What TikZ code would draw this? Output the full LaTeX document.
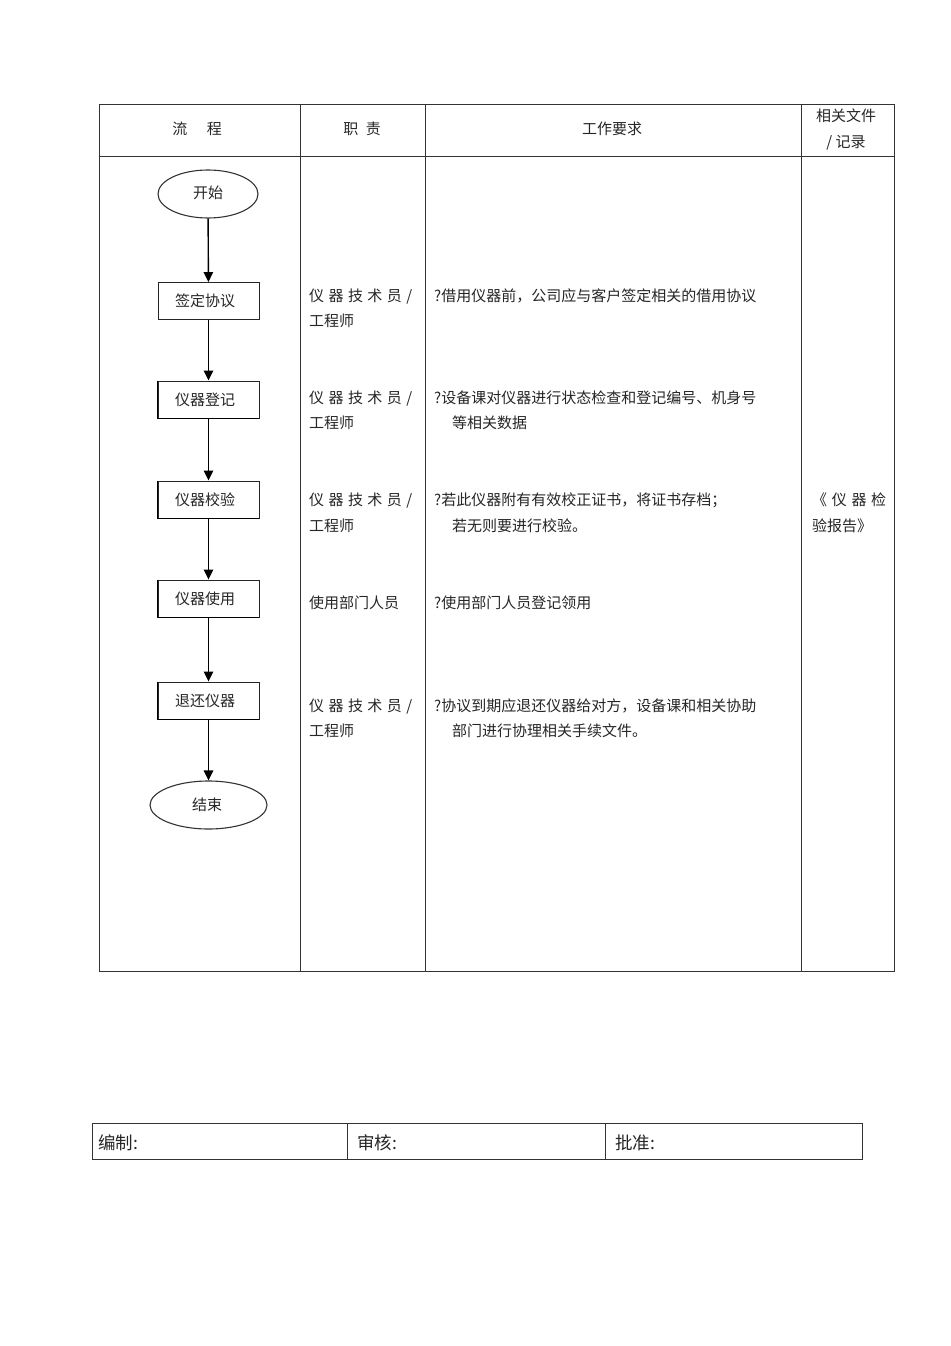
\documentclass[tikz,border=0pt]{standalone}
\usepackage{fontspec}
\setmainfont{Noto Sans CJK SC}
\usetikzlibrary{shapes.geometric,arrows.meta}
\tikzset{
  grid/.style={draw=black!80, line width=0.9pt},
  txt/.style={anchor=base west, inner sep=0pt, font=\fontsize{15}{16}\selectfont, text=black!85},
  ctxt/.style={anchor=base, inner sep=0pt, font=\fontsize{15}{16}\selectfont, text=black!85},
  term/.style={ellipse, draw=black!80, line width=1.1pt, inner sep=0pt, font=\fontsize{15}{16}\selectfont, text=black!85},
  procbox/.style={rectangle, draw=black!85, line width=0.9pt, minimum width=101pt, minimum height=37pt, inner sep=0pt, font=\fontsize{15}{16}\selectfont, text=black!85},
  flow/.style={draw=black, line width=1.4pt, -{Triangle[length=10pt,width=9.5pt]}},
  btxt/.style={anchor=base west, inner sep=0pt, font=\fontsize{17.5}{19}\selectfont, text=black!85}
}
\newcommand{\role}{\hbox to 103pt{仪\hfil 器\hfil 技\hfil 术\hfil 员\hfil /}}
\begin{document}
\begin{tikzpicture}[x=1pt,y=1pt]
\useasboundingbox (0,0) rectangle (950,-1346);
\fill[white] (0,0) rectangle (950,-1346);
% main table
\draw[grid] (99,-104) rectangle (894,-971);
\draw[grid] (99,-156) -- (894,-156);
\draw[grid] (300,-104) -- (300,-971);
\draw[grid] (425,-104) -- (425,-971);
\draw[grid] (801,-104) -- (801,-971);
% header
\node[ctxt] (h1) at (197,-134) {流\hspace{1.3em}程};
\node[ctxt] (h2) at (362,-134) {职\hspace{0.5em}责};
\node[ctxt] (h3) at (612,-134) {工作要求};
\node[ctxt] (h4a) at (846,-121) {相关文件};
\node[ctxt] (h4b) at (846,-147) {/ 记录};
% flow
\node[term, minimum width=100pt, minimum height=48pt] (start) at (208,-194) {\raisebox{4pt}{开始}};
\node[procbox] (b1) at (208.5,-301) {\hspace{-7pt}签定协议};
\node[procbox] (b2) at (208.5,-399.5) {\hspace{-7pt}仪器登记};
\node[procbox] (b3) at (208.5,-499.5) {\hspace{-7pt}仪器校验};
\node[procbox] (b4) at (208.5,-598.5) {\hspace{-7pt}仪器使用};
\node[procbox] (b5) at (208.5,-700.5) {\hspace{-7pt}退还仪器};
\node[term, minimum width=117pt, minimum height=48pt] (stop) at (208.5,-805) {\hspace{-3pt}\raisebox{1pt}{结束}};
\foreach \b in {b2,b3,b4,b5}{
  \draw[black, line width=1.7pt] (\b.north west) -- (\b.south west) -- (\b.south east);
}
\draw[flow] (start) -- (b1);
\draw[flow] (b1) -- (b2);
\draw[flow] (b2) -- (b3);
\draw[flow] (b3) -- (b4);
\draw[flow] (b4) -- (b5);
\draw[flow] (b5) -- (stop);
% roles
\node[txt] (r1a) at (309,-301) {\role};
\node[txt] (r1b) at (309,-326) {工程师};
\node[txt] (r2a) at (309,-403) {\role};
\node[txt] (r2b) at (309,-428) {工程师};
\node[txt] (r3a) at (309,-505) {\role};
\node[txt] (r3b) at (309,-531) {工程师};
\node[txt] (r4a) at (309,-608) {使用部门人员};
\node[txt] (r5a) at (309,-711) {\role};
\node[txt] (r5b) at (309,-736) {工程师};
% requirements
\node[txt] (q1a) at (434,-301) {?借用仪器前，公司应与客户签定相关的借用协议};
\node[txt] (q2a) at (434,-403) {?设备课对仪器进行状态检查和登记编号、机身号};
\node[txt] (q2b) at (452,-428) {等相关数据};
\node[txt] (q3a) at (434,-505) {?若此仪器附有有效校正证书，将证书存档；};
\node[txt] (q3b) at (452,-531) {若无则要进行校验。};
\node[txt] (q4a) at (434,-608) {?使用部门人员登记领用};
\node[txt] (q5a) at (434,-711) {?协议到期应退还仪器给对方，设备课和相关协助};
\node[txt] (q5b) at (452,-736) {部门进行协理相关手续文件。};
% files
\node[txt] (f1) at (812,-505) {\hbox to 74pt{《\hfil 仪\hfil 器\hfil 检}};
\node[txt] (f2) at (812,-531) {验报告》};
% bottom table
\draw[grid] (92,-1123) rectangle (862,-1159);
\draw[grid] (347,-1123) -- (347,-1159);
\draw[grid] (605,-1123) -- (605,-1159);
\node[btxt] (s1) at (98,-1149) {编制:};
\node[btxt] (s2) at (357,-1149) {审核:};
\node[btxt] (s3) at (615,-1149) {批准:};
\end{tikzpicture}
\end{document}
